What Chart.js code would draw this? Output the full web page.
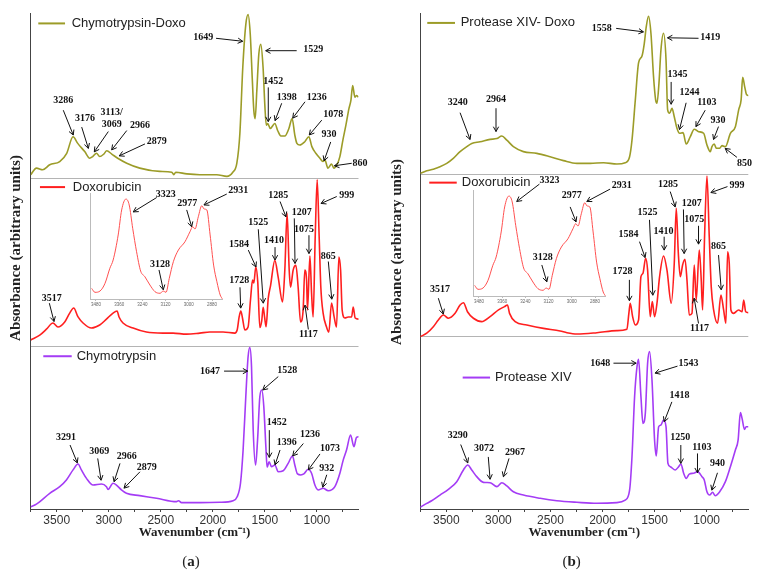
<!DOCTYPE html>
<html>
<head>
<meta charset="utf-8">
<script src="https://cdn.jsdelivr.net/npm/chart.js@4.4.0/dist/chart.umd.min.js"></script>
<style>
body{margin:0;background:#fff}
#wrap{position:relative;width:781px;height:578px;overflow:hidden}
canvas{position:absolute}
</style>
</head>
<body>
<div id="wrap">
<canvas id="chartA" width="390" height="578" style="left:0;top:0"></canvas>
<canvas id="chartB" width="395" height="578" style="left:385px;top:0"></canvas>
<canvas id="insetA" width="140" height="120" style="left:85px;top:188px"></canvas>
<canvas id="insetB" width="140" height="120" style="left:468px;top:185px"></canvas>
</div>
<script>
// x axis
const wnLabels = [3500, 3000, 2500, 2000, 1500, 1000];
const insetTicks = [3480, 3360, 3240, 3120, 3000, 2880];

// spectra: [wavenumber, absorbance (normalised, arbitrary units)]
const chymoDoxo = [[3750,0.02],[3695,0.06],[3635,0.05],[3567,0.08],[3471,0.10],[3404,0.15],[3343,0.25],[3298,0.21],[3231,0.16],[3183,0.12],[3154,0.13],[3118,0.15],[3087,0.13],[3048,0.145],[3019,0.165],[2971,0.145],[2914,0.12],[2827,0.09],[2702,0.06],[2510,0.04],[2394,0.035],[2375,0.02],[2356,0.035],[2250,0.025],[2125,0.02],[1962,0.02],[1865,0.01],[1808,0.035],[1769,0.09],[1740,0.27],[1712,0.67],[1683,0.93],[1661,0.99],[1640,0.87],[1620,0.59],[1606,0.41],[1593,0.36],[1577,0.53],[1558,0.75],[1539,0.81],[1517,0.67],[1500,0.44],[1486,0.32],[1472,0.33],[1448,0.30],[1404,0.33],[1375,0.285],[1346,0.255],[1308,0.255],[1269,0.30],[1238,0.36],[1212,0.26],[1192,0.21],[1164,0.20],[1116,0.22],[1077,0.25],[1048,0.19],[1010,0.15],[971,0.12],[942,0.10],[923,0.11],[894,0.06],[859,0.085],[837,0.06],[808,0.08],[779,0.13],[750,0.23],[721,0.32],[692,0.42],[673,0.47],[656,0.56],[635,0.49],[619,0.50],[601,0.49]];

const doxoA = [[3750,0.036],[3663,0.065],[3599,0.10],[3536,0.137],[3488,0.113],[3423,0.143],[3375,0.196],[3337,0.226],[3295,0.173],[3247,0.137],[3166,0.107],[3087,0.125],[3022,0.16],[2959,0.196],[2920,0.208],[2901,0.173],[2863,0.137],[2766,0.107],[2638,0.083],[2478,0.077],[2382,0.077],[2253,0.071],[2125,0.077],[2029,0.083],[1901,0.083],[1789,0.077],[1766,0.095],[1747,0.173],[1731,0.208],[1715,0.167],[1692,0.095],[1661,0.113],[1638,0.274],[1618,0.393],[1606,0.375],[1587,0.47],[1568,0.38],[1548,0.11],[1530,0.15],[1516,0.23],[1502,0.17],[1488,0.115],[1468,0.28],[1445,0.36],[1404,0.51],[1372,0.41],[1330,0.262],[1308,0.452],[1286,0.79],[1266,0.452],[1253,0.35],[1228,0.452],[1202,0.48],[1180,0.35],[1157,0.143],[1132,0.214],[1116,0.452],[1099,0.393],[1090,0.214],[1067,0.536],[1051,0.315],[1036,0.173],[1016,0.649],[997,0.99],[978,0.649],[962,0.35],[940,0.196],[907,0.113],[885,0.083],[859,0.256],[834,0.173],[811,0.113],[789,0.53],[772,0.452],[757,0.214],[731,0.167],[699,0.173],[666,0.173],[651,0.232],[632,0.167],[596,0.16]];

const chymo = [[3750,0.014],[3695,0.03],[3567,0.096],[3471,0.137],[3407,0.178],[3343,0.24],[3295,0.276],[3263,0.24],[3214,0.188],[3151,0.147],[3070,0.153],[3022,0.137],[3007,0.12],[2959,0.158],[2926,0.147],[2878,0.117],[2830,0.096],[2702,0.082],[2541,0.066],[2349,0.045],[2330,0.051],[2301,0.039],[2125,0.039],[1933,0.041],[1805,0.051],[1766,0.075],[1734,0.158],[1709,0.36],[1683,0.69],[1661,0.934],[1644,0.99],[1628,0.873],[1612,0.485],[1589,0.27],[1570,0.423],[1548,0.69],[1529,0.73],[1510,0.628],[1490,0.38],[1478,0.256],[1459,0.29],[1436,0.26],[1404,0.27],[1372,0.229],[1324,0.235],[1276,0.28],[1234,0.325],[1212,0.27],[1186,0.215],[1154,0.209],[1125,0.215],[1084,0.244],[1051,0.219],[1019,0.147],[988,0.117],[940,0.127],[891,0.112],[827,0.137],[779,0.219],[747,0.30],[715,0.362],[676,0.454],[644,0.382],[619,0.44],[596,0.444]];

const proteaseDoxo = [[3750,0.004],[3688,0.02],[3625,0.03],[3561,0.045],[3496,0.066],[3433,0.097],[3368,0.139],[3304,0.17],[3256,0.19],[3176,0.20],[3080,0.215],[3015,0.22],[2967,0.236],[2919,0.21],[2856,0.17],[2760,0.139],[2631,0.128],[2503,0.107],[2375,0.083],[2246,0.066],[2118,0.066],[1990,0.07],[1862,0.062],[1782,0.07],[1740,0.107],[1717,0.21],[1685,0.46],[1654,0.69],[1621,0.733],[1599,0.81],[1580,0.915],[1558,0.98],[1535,0.874],[1510,0.604],[1490,0.46],[1477,0.44],[1458,0.563],[1439,0.77],[1414,0.874],[1390,0.708],[1375,0.40],[1356,0.377],[1333,0.408],[1311,0.356],[1285,0.284],[1260,0.253],[1227,0.257],[1196,0.186],[1157,0.232],[1119,0.278],[1077,0.263],[1029,0.253],[997,0.18],[965,0.139],[949,0.17],[927,0.186],[907,0.16],[875,0.16],[852,0.176],[820,0.17],[772,0.253],[724,0.294],[692,0.40],[669,0.46],[654,0.60],[634,0.54],[618,0.495],[596,0.486]];

const doxoB = [[3750,0.002],[3688,0.023],[3625,0.063],[3577,0.104],[3529,0.135],[3480,0.115],[3416,0.145],[3368,0.196],[3336,0.21],[3297,0.155],[3240,0.115],[3160,0.094],[3080,0.125],[2999,0.166],[2942,0.186],[2913,0.196],[2893,0.145],[2839,0.094],[2727,0.074],[2567,0.053],[2407,0.037],[2342,0.026],[2246,0.018],[2054,0.026],[1862,0.039],[1766,0.047],[1747,0.145],[1734,0.207],[1711,0.125],[1685,0.074],[1654,0.104],[1631,0.37],[1612,0.39],[1586,0.483],[1567,0.41],[1542,0.125],[1522,0.217],[1500,0.125],[1477,0.207],[1452,0.37],[1414,0.497],[1381,0.41],[1340,0.207],[1311,0.452],[1292,0.79],[1272,0.514],[1253,0.37],[1231,0.442],[1208,0.477],[1189,0.35],[1167,0.135],[1141,0.145],[1119,0.442],[1100,0.227],[1071,0.534],[1052,0.35],[1039,0.166],[1020,0.615],[997,0.988],[975,0.615],[956,0.309],[933,0.166],[895,0.084],[863,0.258],[837,0.166],[815,0.084],[799,0.523],[783,0.452],[767,0.166],[741,0.145],[693,0.166],[660,0.155],[644,0.227],[625,0.155],[596,0.149]];

const protease = [[3750,0.01],[3688,0.033],[3641,0.048],[3561,0.081],[3480,0.114],[3400,0.159],[3336,0.227],[3294,0.256],[3256,0.227],[3208,0.188],[3144,0.155],[3080,0.153],[3015,0.13],[2967,0.153],[2919,0.134],[2856,0.10],[2760,0.081],[2599,0.062],[2439,0.048],[2246,0.039],[2054,0.033],[1862,0.037],[1782,0.052],[1740,0.11],[1717,0.304],[1692,0.653],[1669,0.827],[1654,0.87],[1631,0.653],[1612,0.498],[1589,0.556],[1567,0.847],[1548,0.915],[1525,0.75],[1500,0.40],[1484,0.308],[1461,0.478],[1439,0.488],[1414,0.517],[1390,0.478],[1372,0.266],[1349,0.246],[1301,0.227],[1269,0.246],[1247,0.262],[1221,0.208],[1196,0.178],[1167,0.203],[1125,0.208],[1087,0.217],[1045,0.188],[1023,0.169],[997,0.10],[972,0.081],[943,0.097],[917,0.077],[875,0.10],[820,0.159],[772,0.246],[724,0.343],[698,0.40],[676,0.56],[660,0.527],[637,0.463],[621,0.478],[596,0.478]];

const doxoInset = [[3502,0.10],[3485,0.063],[3459,0.075],[3433,0.148],[3408,0.29],[3391,0.368],[3365,0.604],[3347,0.84],[3325,0.943],[3308,0.887],[3290,0.667],[3270,0.446],[3249,0.264],[3227,0.21],[3201,0.132],[3175,0.069],[3149,0.054],[3132,0.075],[3118,0.063],[3101,0.195],[3080,0.352],[3054,0.462],[3020,0.54],[2994,0.635],[2980,0.682],[2968,0.66],[2951,0.776],[2933,0.88],[2921,0.849],[2907,0.84],[2890,0.604],[2872,0.32],[2855,0.163],[2838,0.038],[2826,0]];

const OLIVE = '#9c9c28', RED = '#ff1f1f', PURPLE = '#a43cf5';
const serif = '"Liberation Serif", "Times New Roman", serif';
const sans = '"Liberation Sans", Arial, sans-serif';

// peak labels: [text, label at, arrow from, arrow to] in (wavenumber, % of plot height)
const notesA = [
  ['1649',[2091,95.0],[1969,94.9],[1713,94.3]],
  ['1529',[1034,92.7],[1194,92.4],[1492,92.4]],
  ['1452',[1419,86.3],[1467,85.0],[1467,78.1]],
  ['1398',[1290,83.0],[1338,81.8],[1402,78.3]],
  ['1236',[1002,83.0],[1114,82.1],[1232,78.8]],
  ['1078',[842,79.6],[953,78.4],[1073,75.4]],
  ['930',[883,75.6],[867,74.0],[931,70.2]],
  ['860',[585,69.7],[665,69.7],[832,69.2]],
  ['3286',[3437,82.3],[3437,80.4],[3341,75.4]],
  ['3176',[3228,78.8],[3260,77.0],[3196,72.7]],
  ['3113/',[2972,80.0]],
  ['3069',[2972,77.6],[3004,76.1],[3139,72.0]],
  ['2966',[2700,77.3],[2827,76.3],[2972,72.4]],
  ['2879',[2539,74.2],[2652,73.6],[2899,71.2]],
  ['3517',[3548,42.5],[3571,41.5],[3526,37.8]],
  ['1728',[1745,46.0],[1739,44.7],[1732,40.5]],
  ['1584',[1748,53.4],[1659,52.2],[1585,48.8]],
  ['1525',[1563,57.7],[1563,56.4],[1515,41.5]],
  ['1410',[1412,54.1],[1402,52.8],[1402,50.2]],
  ['1285',[1371,63.2],[1354,62.0],[1297,58.9]],
  ['1207',[1146,59.7],[1217,58.6],[1210,49.5]],
  ['1075',[1124,56.4],[1076,55.2],[1076,51.5]],
  ['999',[713,63.3],[809,63.0],[960,61.6]],
  ['865',[890,51.0],[890,49.9],[857,42.3]],
  ['1117',[1082,35.1],[1082,36.2],[1114,41.1]],
  ['3323',[2453,63.5],[2539,62.8],[2764,59.9]],
  ['2977',[2245,61.6],[2251,60.3],[2203,56.9]],
  ['2931',[1755,64.2],[1866,63.5],[2085,61.3]],
  ['3128',[2507,49.3],[2517,48.2],[2476,44.2]],
  ['1647',[2027,27.8],[1892,27.8],[1665,27.8]],
  ['1528',[1284,28.0],[1371,26.7],[1520,24.0]],
  ['1452',[1386,17.5],[1457,15.9],[1457,10.4]],
  ['1396',[1290,13.4],[1354,11.9],[1402,8.9]],
  ['1236',[1066,15.1],[1130,13.2],[1232,10.7]],
  ['1073',[874,12.2],[970,11.1],[1082,7.9]],
  ['932',[905,8.2],[905,6.9],[944,4.4]],
  ['3291',[3411,14.5],[3372,12.9],[3302,9.3]],
  ['3069',[3091,11.7],[3106,10.2],[3074,5.8]],
  ['2966',[2827,10.5],[2892,9.2],[2949,5.5]],
  ['2879',[2635,8.4],[2700,7.5],[2853,4.2]]
];

const notesB = [
  ['1558',[2007,96.9],[1869,96.9],[1607,96.2]],
  ['1419',[966,95.1],[1078,94.9],[1376,95.0]],
  ['1345',[1280,87.7],[1341,86.1],[1341,81.6]],
  ['1244',[1165,83.9],[1197,81.9],[1261,76.5]],
  ['1103',[998,81.9],[1014,80.4],[1103,77.1]],
  ['930',[892,78.4],[886,77.1],[934,74.5]],
  ['850',[636,69.7],[709,70.9],[822,72.7]],
  ['3240',[3391,81.9],[3368,79.9],[3272,74.5]],
  ['2964',[3023,82.6],[3023,80.8],[3023,76.1]],
  ['3323',[2510,66.3],[2606,65.5],[2824,62.0]],
  ['2977',[2295,63.3],[2311,60.9],[2254,57.9]],
  ['2931',[1815,65.3],[1927,64.5],[2151,62.0]],
  ['3128',[2574,50.7],[2583,49.2],[2535,45.8]],
  ['3517',[3561,44.2],[3577,42.5],[3529,39.3]],
  ['1728',[1809,47.8],[1742,46.2],[1742,42.0]],
  ['1584',[1751,55.4],[1645,53.9],[1591,50.7]],
  ['1525',[1569,59.7],[1549,58.3],[1517,43.1]],
  ['1410',[1415,56.0],[1408,54.9],[1408,52.2]],
  ['1285',[1372,65.5],[1350,64.0],[1302,60.9]],
  ['1207',[1142,61.7],[1223,60.4],[1216,51.5]],
  ['1075',[1120,58.3],[1078,57.1],[1078,53.4]],
  ['999',[709,65.3],[800,65.0],[959,63.8]],
  ['865',[886,53.0],[886,51.2],[860,44.2]],
  ['1117',[1069,36.4],[1078,37.4],[1120,42.5]],
  ['1648',[2023,29.4],[1895,29.4],[1677,29.4]],
  ['1543',[1175,29.4],[1280,28.8],[1495,27.4]],
  ['1418',[1261,22.8],[1334,21.6],[1408,17.6]],
  ['1250',[1254,14.4],[1248,12.9],[1248,9.2]],
  ['1103',[1046,12.4],[1088,11.2],[1088,7.3]],
  ['940',[896,9.1],[896,7.3],[950,3.8]],
  ['3290',[3391,14.8],[3362,13.0],[3294,9.3]],
  ['3072',[3138,12.2],[3097,10.5],[3080,6.0]],
  ['2967',[2840,11.4],[2898,10.2],[2952,6.5]]
];

const panelA = {
  traces: [
    {label: 'Chymotrypsin', data: chymo, color: PURPLE},
    {label: 'Doxorubicin', data: doxoA, color: RED},
    {label: 'Chymotrypsin-Doxo', data: chymoDoxo, color: OLIVE}
  ],
  bands: [[0, 32.86], [32.86, 66.73], [66.73, 100]],
  legend: [{line: [3629, 3356], y: 30.8, text: 3308}, {line: [3661, 3420], y: 64.9, text: 3346}, {line: [3677, 3420], y: 97.9, text: 3356}],
  notes: notesA,
  left: 30.7, right: 31.5,
  yTitle: [16, 248], letter: ['a', 191, 562]
};
const panelB = {
  traces: [
    {label: 'Protease XIV', data: protease, color: PURPLE},
    {label: 'Doxorubicin', data: doxoB, color: RED},
    {label: 'Protease XIV- Doxo', data: proteaseDoxo, color: OLIVE}
  ],
  bands: [[0, 34.68], [34.68, 67.54], [67.54, 100]],
  legend: [{line: [3343, 3080], y: 26.5, text: 3032}, {line: [3664, 3400], y: 65.8, text: 3352}, {line: [3683, 3417], y: 98.0, text: 3362}],
  notes: notesB,
  left: 35.3, right: 31.7,
  yTitle: [12.5, 252], letter: ['b', 186.7, 562]
};

function arrow(ctx, x1, y1, x2, y2) {
  const a = Math.atan2(y2 - y1, x2 - x1), h = 5.5;
  ctx.beginPath();
  ctx.moveTo(x1, y1);
  ctx.lineTo(x2, y2);
  ctx.moveTo(x2 - h * Math.cos(a - 0.5), y2 - h * Math.sin(a - 0.5));
  ctx.lineTo(x2, y2);
  ctx.lineTo(x2 - h * Math.cos(a + 0.5), y2 - h * Math.sin(a + 0.5));
  ctx.stroke();
}

function notesPlugin(panel) {
  return {
    id: 'notes',
    afterDatasetsDraw(chart) {
      const {ctx, scales: {x, y}} = chart;
      const px = p => [x.getPixelForValue(p[0]), y.getPixelForValue(p[1])];
      ctx.save();
      // legend entries
      panel.legend.forEach((l, i) => {
        const ds = chart.data.datasets[i];
        ctx.strokeStyle = ds.borderColor;
        ctx.lineWidth = 2;
        ctx.beginPath();
        ctx.moveTo(x.getPixelForValue(l.line[0]), y.getPixelForValue(l.y));
        ctx.lineTo(x.getPixelForValue(l.line[1]), y.getPixelForValue(l.y));
        ctx.stroke();
        ctx.fillStyle = '#222';
        ctx.font = '13px ' + sans;
        ctx.textAlign = 'left';
        ctx.textBaseline = 'middle';
        ctx.fillText(ds.label, x.getPixelForValue(l.text), y.getPixelForValue(l.y));
      });
      // peak labels and arrows
      ctx.strokeStyle = '#111';
      ctx.lineWidth = 1;
      ctx.fillStyle = '#111';
      ctx.font = 'bold 10px ' + serif;
      ctx.textAlign = 'center';
      panel.notes.forEach(n => {
        const [lx, ly] = px(n[1]);
        ctx.fillText(n[0], lx, ly);
        if (n[2]) {
          const [fx, fy] = px(n[2]);
          const [tx, ty] = px(n[3]);
          arrow(ctx, fx, fy, tx, ty);
        }
      });
      // y title
      ctx.font = 'bold 15px ' + serif;
      ctx.fillStyle = '#222';
      ctx.save();
      ctx.translate(panel.yTitle[0], panel.yTitle[1]);
      ctx.rotate(-Math.PI / 2);
      ctx.fillText('Absorbance (arbitrary units)', 0, 0);
      ctx.restore();
      // panel letter
      const [ch, cx, cy] = panel.letter;
      ctx.font = '15px ' + serif;
      const wp = ctx.measureText('(').width;
      ctx.font = 'bold 15px ' + serif;
      const wl = ctx.measureText(ch).width;
      let sx = cx - (wp * 2 + wl) / 2;
      ctx.textAlign = 'left';
      ctx.font = '15px ' + serif;
      ctx.fillText('(', sx, cy);
      ctx.font = 'bold 15px ' + serif;
      ctx.fillText(ch, sx + wp, cy);
      ctx.font = '15px ' + serif;
      ctx.fillText(')', sx + wp + wl, cy);
      ctx.restore();
    }
  };
}

function spectrumChart(id, panel) {
  const seps = [panel.bands[1][0], panel.bands[2][0]];
  return new Chart(document.getElementById(id), {
    type: 'line',
    data: {
      datasets: panel.traces.map((t, i) => ({
        label: t.label,
        data: t.data.map(([wn, a]) => ({x: wn, y: panel.bands[i][0] + a * (panel.bands[i][1] - panel.bands[i][0])})),
        borderColor: t.color,
        borderWidth: 1.6,
        pointRadius: 0,
        cubicInterpolationMode: 'monotone'
      }))
    },
    options: {
      responsive: false,
      animation: false,
      layout: {padding: {top: 13, right: panel.right, bottom: 0, left: 0}},
      plugins: {legend: {display: false}, tooltip: {enabled: false}},
      scales: {
        x: {
          type: 'linear', reverse: true, min: 600, max: 3750,
          afterFit: s => { s.height = 69; },
          ticks: {
            stepSize: 250, includeBounds: false, autoSkip: false, maxRotation: 0, padding: 1,
            font: {family: sans, size: 12}, color: '#333',
            callback: v => wnLabels.includes(v) ? String(v) : ''
          },
          grid: {drawOnChartArea: false, tickLength: 3, color: '#444'},
          border: {color: '#444'},
          title: {
            display: true, text: 'Wavenumber (cm⁻¹)', color: '#222',
            font: {family: serif, size: 13, weight: 'bold'},
            padding: {top: 0, bottom: 37.7}
          }
        },
        y: {
          min: 0, max: 100,
          afterFit: s => { s.width = panel.left; },
          afterBuildTicks: s => { s.ticks = [0, ...seps, 100].map(value => ({value})); },
          ticks: {display: false},
          grid: {drawTicks: false, color: c => seps.includes(c.tick && c.tick.value) ? '#b4b4b4' : 'rgba(0,0,0,0)'},
          border: {color: '#444'}
        }
      }
    },
    plugins: [notesPlugin(panel)]
  });
}

function insetChart(id) {
  return new Chart(document.getElementById(id), {
    type: 'line',
    data: {
      datasets: [{
        data: doxoInset.map(([wn, a]) => ({x: wn, y: a})),
        borderColor: '#ff5050', borderWidth: 1, pointRadius: 0,
        cubicInterpolationMode: 'monotone'
      }]
    },
    options: {
      responsive: false,
      animation: false,
      layout: {padding: {top: 5, right: 2.3, bottom: 0, left: 0}},
      plugins: {legend: {display: false}, tooltip: {enabled: false}},
      scales: {
        x: {
          type: 'linear', reverse: true, min: 2825, max: 3507,
          afterFit: s => { s.height = 9; },
          afterBuildTicks: s => { s.ticks = insetTicks.map(value => ({value})); },
          ticks: {autoSkip: false, maxRotation: 0, padding: 1, font: {family: sans, size: 4.5}, color: '#666',
            callback: v => String(v)},
          grid: {drawOnChartArea: false, tickLength: 2, color: '#bbb'},
          border: {color: '#bbb'}
        },
        y: {
          min: 0, max: 1,
          afterFit: s => { s.width = 5.7; },
          ticks: {display: false},
          grid: {display: false},
          border: {color: '#bbb'}
        }
      }
    }
  });
}

spectrumChart('chartA', panelA);
spectrumChart('chartB', panelB);
insetChart('insetA');
insetChart('insetB');
</script>
</body>
</html>
